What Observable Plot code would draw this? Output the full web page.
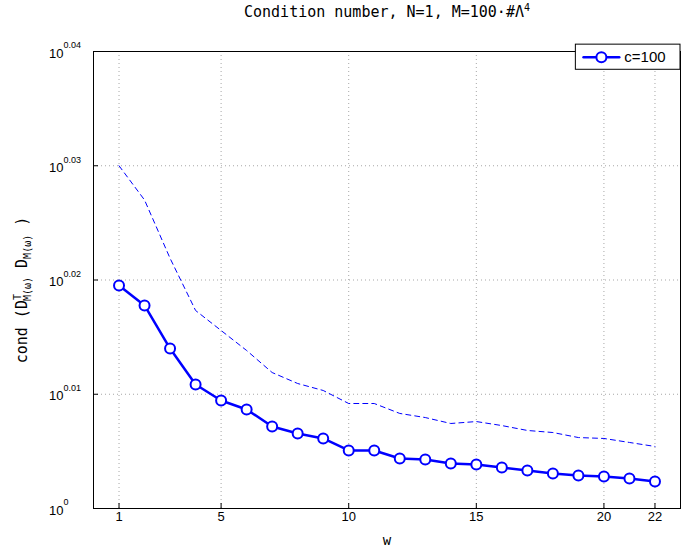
<!DOCTYPE html>
<html><head><meta charset="utf-8">
<script src="https://cdn.jsdelivr.net/npm/d3@7"></script>
<script src="https://cdn.jsdelivr.net/npm/@observablehq/plot@0.6"></script>
<style>
body{margin:0;background:#fff;font-family:"DejaVu Sans Mono",monospace}
#wrap{position:relative;width:681px;height:550px}
#title{position:absolute;top:2px;left:93px;width:588px;text-align:center;font-size:15px}
#ylab{position:absolute;left:22px;top:290px;transform:translate(-50%,-50%) rotate(-90deg);font-size:15px;white-space:nowrap}
#ylab sub,#ylab sup{font-size:10px}
</style></head><body>
<div id="wrap">
<div id="title">Condition number, N=1, M=100·#Λ<sup style="font-size:10px">4</sup></div>
<div id="ylab">cond (D<sup>T</sup><sub style="margin-left:-7px">M(ω)</sub> D<sub>M(ω)</sub> )</div>
<div id="chart"></div>
</div>
<script>
// exponents of 10
const w = d3.range(1, 23)
const solid = [0.01952,0.01777,0.0140,0.01085,0.00945,0.00867,0.00718,0.00656,0.00613,0.00508,0.00508,0.00438,0.00429,0.00394,0.00385,0.00359,0.00333,0.00306,0.00289,0.0028,0.00263,0.00236]
const dashed = [0.0300,0.0270,0.0219,0.01733,0.01558,0.01383,0.0119,0.01094,0.01033,0.00919,0.00919,0.00832,0.00796,0.00744,0.00761,0.00726,0.00683,0.00665,0.00621,0.00613,0.00578,0.00543]
const xTicks = [1,5,10,15,20,22]
const yTicks = [0,0.01,0.02,0.03,0.04]
const yTickLabels = ["0","0.01","0.02","0.03","0.04"]

const rows = w.map((x, i) => ({w: x, s: solid[i], d: dashed[i]}))
const blue = "#0000ff"

const chart = Plot.plot({
  width: 681, height: 550,
  marginTop: 51, marginBottom: 42, marginLeft: 93, marginRight: 1,
  style: {fontFamily: "Liberation Sans, sans-serif", fontSize: "13px"},
  x: {domain: [0, 23], ticks: xTicks, tickSize: -5, label: null},
  y: {domain: [0, 0.04], ticks: yTicks, tickSize: -5, tickFormat: () => "", label: null},
  marks: [
    Plot.gridX(xTicks, {stroke: "#000", strokeOpacity: 0.35, strokeDasharray: "1,3"}),
    Plot.gridY(yTicks.slice(1), {stroke: "#000", strokeOpacity: 0.35, strokeDasharray: "1,3"}),
    Plot.frame({stroke: "#000"}),
    Plot.axisX({ticks: xTicks, tickSize: -5, label: null, tickPadding: 8}),
    Plot.text(yTicks, {x: 0, y: d => d, text: () => "10", textAnchor: "end", dx: -30, dy: 2}),
    Plot.text(yTicks, {x: 0, y: d => d, text: (d, i) => yTickLabels[i], textAnchor: "start", dx: -30, dy: -6, fontSize: 9}),
    Plot.text(["w"], {frameAnchor: "bottom", dy: 36, fontFamily: "DejaVu Sans Mono", fontSize: 14}),
    Plot.line(rows, {x: "w", y: "d", stroke: blue, strokeWidth: 1, strokeDasharray: "5,4"}),
    Plot.line(rows, {x: "w", y: "s", stroke: blue, strokeWidth: 2.5}),
    Plot.dot(rows, {x: "w", y: "s", stroke: blue, strokeWidth: 2, r: 5, fill: "#fff"}),
    // legend
    Plot.rect([0], {x1: 18.9, x2: 23, y1: 0.0384, y2: 0.0406, fill: "#fff", stroke: "#000"}),
    Plot.line([[19.2, 0.0395], [20.6, 0.0395]], {stroke: blue, strokeWidth: 2.5}),
    Plot.dot([[19.9, 0.0395]], {stroke: blue, strokeWidth: 2, r: 5, fill: "#fff"}),
    Plot.text(["c=100"], {x: 20.8, y: 0.0395, textAnchor: "start", fontSize: 15})
  ]
})
document.getElementById("chart").append(chart)
</script>
</body></html>
